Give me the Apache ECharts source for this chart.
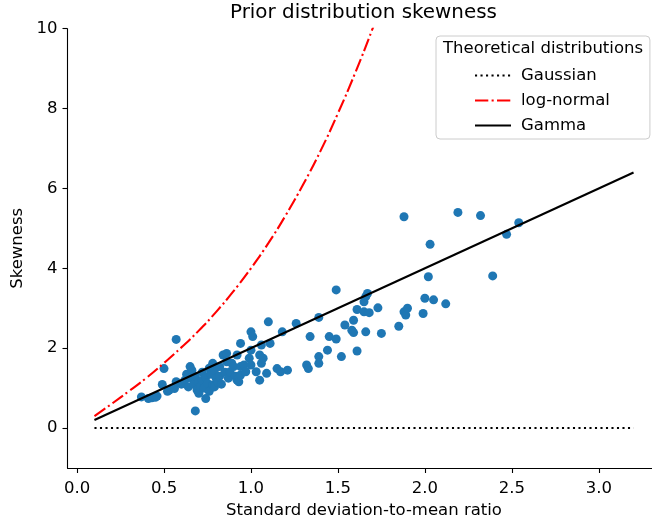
<!DOCTYPE html>
<html><head><meta charset="utf-8">
<script src="https://cdn.jsdelivr.net/npm/echarts@6/dist/echarts.min.js"></script>
<style>html,body{margin:0;padding:0;background:#fff;overflow:hidden}#c{width:652px;height:522px}</style>
</head><body><div id="c"></div>
<script>
// Observed samples (std/mean ratio, skewness)
const sampleX = [0.37,0.41,0.43,0.45,0.46,0.49,0.50,0.52,0.53,0.57,0.56,0.57,0.60,0.61,0.62,0.63,0.64,0.65,0.66,0.66,
  0.68,0.67,0.68,0.69,0.70,0.70,0.71,0.72,0.72,0.73,0.74,0.74,0.75,0.76,0.76,0.77,0.78,0.78,0.79,0.79,
  0.80,0.81,0.82,0.82,0.83,0.84,0.85,0.86,0.86,0.87,0.88,0.89,0.90,0.91,0.92,0.92,0.93,0.94,0.94,0.94,
  0.96,0.97,0.99,1.00,1.00,1.00,1.01,1.03,1.05,1.05,1.06,1.06,1.07,1.09,1.11,1.10,1.15,1.18,1.17,1.21,
  1.26,1.32,1.33,1.34,1.39,1.39,1.39,1.44,1.45,1.49,1.49,1.52,1.54,1.58,1.59,1.59,1.61,1.61,1.65,1.65,
  1.66,1.67,1.66,1.68,1.73,1.75,1.85,1.88,1.89,1.90,1.88,1.99,2.00,2.02,2.03,2.05,2.12,2.19,2.32,2.39,
  2.47,2.54];
const sampleY = [0.78,0.74,0.76,0.77,0.80,1.09,1.49,0.92,0.95,2.22,0.99,1.16,1.10,1.12,1.20,1.35,1.03,1.54,1.45,1.25,
  0.43,1.10,1.30,0.95,0.87,1.15,1.05,1.20,1.40,1.00,0.74,1.28,1.12,1.50,0.92,1.35,1.08,1.62,1.03,1.45,
  1.25,1.15,1.54,1.30,1.10,1.83,1.40,1.66,1.87,1.25,1.41,1.62,1.54,1.30,1.83,1.20,1.16,2.12,1.54,1.33,
  1.58,1.41,1.75,1.58,1.95,2.41,2.29,1.41,1.20,1.83,1.62,2.08,1.75,1.37,2.12,2.66,1.49,2.41,1.41,1.45,
  2.62,1.58,1.49,2.29,1.79,1.62,2.77,1.95,2.29,2.23,3.46,1.79,2.58,2.45,2.39,2.70,1.93,2.97,3.16,2.91,
  3.29,3.37,2.41,2.89,3.01,2.37,2.55,2.91,2.83,3.00,5.29,2.87,3.25,3.79,4.60,3.21,3.11,5.40,5.32,3.81,
  4.85,5.14];
// Theoretical curves
const gaussianX = [0.1, 3.2];
const gaussianY = [0, 0];
const gammaX = [0.1, 3.2];
const gammaY = [0.2, 6.4];
const lognormalX = [0.1,0.2,0.3,0.4,0.5,0.6,0.7,0.8,0.9,1.0,1.1,1.2,1.3,1.4,1.5,1.6,1.7,1.75];
const lognormalY = [0.30,0.61,0.93,1.26,1.63,2.02,2.44,2.91,3.43,4.00,4.63,5.33,6.10,6.94,7.88,8.90,10.01,10.61];
const xTitle = 'Standard deviation-to-mean ratio';
const yTitle = 'Skewness';
const chartTitle = 'Prior distribution skewness';
const legendTitle = 'Theoretical distributions';

const zip = (a, b) => a.map((v, i) => [v, b[i]]);
const FONT = 'DejaVu Sans';
const chart = echarts.init(document.getElementById('c'), null, {renderer: 'canvas'});
const axisCommon = {
  axisLine: {show: true, onZero: false, lineStyle: {color: '#000', width: 1.1}},
  axisTick: {show: true, inside: false, length: 5, lineStyle: {color: '#000', width: 1.1}},
  axisLabel: {color: '#000', fontFamily: FONT, fontSize: 16.5, margin: 10, showMinLabel: false, showMaxLabel: false},
  splitLine: {show: false},
  nameTextStyle: {color: '#000', fontFamily: FONT, fontSize: 16.5},
  nameLocation: 'middle'
};
chart.setOption({
  animation: false,
  backgroundColor: '#fff',
  title: {text: chartTitle, left: 230, top: 3, padding: 0,
    textStyle: {fontFamily: FONT, fontSize: 19.9, fontWeight: 'normal', color: '#000'}},
  grid: {left: 67.5, top: 28.7, width: 593, bottom: 54, containLabel: false, outerBoundsMode: 'none'},
  xAxis: Object.assign({}, axisCommon, {type: 'value', min: -0.055, max: 3.355, splitNumber: 7,
    name: xTitle, nameGap: 34,
    axisLabel: Object.assign({}, axisCommon.axisLabel, {margin: 12, formatter: v => v.toFixed(1)})}),
  yAxis: Object.assign({}, axisCommon, {type: 'value', min: -1, max: 10, splitNumber: 5,
    name: yTitle, nameGap: 41, nameRotate: 90, nameMoveOverlap: false,
    axisLabel: Object.assign({}, axisCommon.axisLabel, {showMaxLabel: true})}),
  legend: {
    orient: 'vertical', left: 436, top: 36,
    padding: [31, 40, 5, 38], itemGap: 8, itemWidth: 36, itemHeight: 14,
    backgroundColor: 'rgba(255,255,255,0.8)', borderColor: '#cccccc', borderWidth: 1, borderRadius: 4,
    itemStyle: {opacity: 0},
    textStyle: {fontFamily: FONT, fontSize: 16.5, color: '#000', padding: [0, 0, 0, 5]},
    data: ['Gaussian', 'log-normal', 'Gamma']
  },
  graphic: [{type: 'text', left: 443, top: 40, z: 100,
    style: {text: legendTitle, font: '16.5px "DejaVu Sans"', fill: '#000'}}],
  series: [
    {type: 'scatter', name: 'samples', data: zip(sampleX, sampleY), symbolSize: 9,
      itemStyle: {color: '#1f77b4', opacity: 1}, z: 2},
    {type: 'line', name: 'Gaussian', data: zip(gaussianX, gaussianY), symbol: 'none',
      lineStyle: {color: '#000', width: 2.1, type: [2.1, 3.4]}, itemStyle: {color: '#000'}, z: 3},
    {type: 'line', name: 'log-normal', data: zip(lognormalX, lognormalY), symbol: 'none', smooth: true, clip: true,
      lineStyle: {color: '#ff0000', width: 2.1, type: [13.3, 3.3, 2.1, 3.3]}, itemStyle: {color: '#ff0000'}, z: 3},
    {type: 'line', name: 'Gamma', data: zip(gammaX, gammaY), symbol: 'none',
      lineStyle: {color: '#000', width: 2.1}, itemStyle: {color: '#000'}, z: 3}
  ]
});
</script></body></html>
